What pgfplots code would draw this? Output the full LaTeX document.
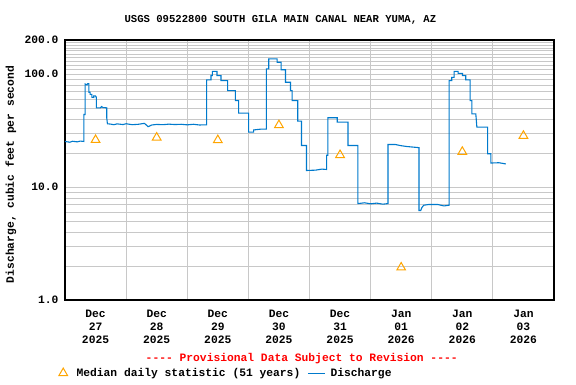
\documentclass[border=0pt]{standalone}
\usepackage{pgfplots}
\pgfplotsset{compat=1.18}
\usepackage{fontspec}
\setmainfont{Liberation Mono}
\definecolor{usgsblue}{RGB}{0,122,204}
\definecolor{usgsorange}{RGB}{255,165,0}
\definecolor{gridgray}{RGB}{200,200,200}
\definecolor{provred}{RGB}{255,0,0}
\newcommand{\lblfont}{\bfseries\fontsize{11.3}{12.9}\selectfont}
\begin{document}
\begin{tikzpicture}[x=1pt,y=1pt]
\path[use as bounding box] (0,0) rectangle (576,384);
\begin{axis}[
  at={(65pt,84pt)}, anchor=south west,
  scale only axis, width=489pt, height=260pt,
  xmin=0, xmax=8, ymode=log, ymin=1, ymax=200,
  axis line style={black, line width=1.2pt},
  xtick={0.5,1.5,2.5,3.5,4.5,5.5,6.5,7.5},
  xticklabels={{Dec\\27\\2025},{Dec\\28\\2025},{Dec\\29\\2025},{Dec\\30\\2025},{Dec\\31\\2025},{Jan\\01\\2026},{Jan\\02\\2026},{Jan\\03\\2026}},
  minor xtick={1,2,3,4,5,6,7},
  xminorgrids=true,
  ytick={1,10,100,200},
  yticklabels={1.0,10.0,100.0,200.0},
  minor ytick={2,3,4,5,6,7,8,9,20,30,40,50,60,70,80,90,110,120,130,140,150,160,170,180,190},
  ymajorgrids=true, yminorgrids=true,
  major grid style={gridgray, line width=0.9pt},
  minor grid style={gridgray, line width=0.9pt},
  major tick length=0pt, minor tick length=0pt,
  tick label style={font=\lblfont, black},
  xticklabel style={align=center, yshift=-7pt},
  yticklabel style={xshift=-3pt},
  /pgf/number format/assume math mode=true,
  legend columns=2,
  legend cell align=left,
  legend style={draw=none, fill=none, font=\lblfont,
    at={(axis description cs:-0.019,-0.281)}, anchor=west,
    /tikz/column 1/.style={column sep=7pt},
    /tikz/column 2/.style={column sep=5pt},
    /tikz/column 3/.style={column sep=3pt}},
  clip=true,
]
\addplot[only marks, mark=triangle, mark size=5pt, mark options={draw=usgsorange, line width=1pt}]
  coordinates {(0.5,26.1) (1.5,27.4) (2.5,26.0) (3.5,35.3) (4.5,19.2) (5.5,1.94) (6.5,20.5) (7.5,28.4)};
\addlegendentry{Median daily statistic (51 years)}
\addplot[usgsblue, line width=1.1pt, mark=none, line join=miter]
  coordinates {
  (0.00,25.3) (0.08,24.9) (0.12,25.4) (0.20,25.1) (0.25,25.5) (0.31,25.3)
  (0.31,43.8) (0.33,43.8) (0.33,81.5) (0.36,80) (0.37,82) (0.39,82)
  (0.39,69) (0.41,69) (0.41,66) (0.44,66) (0.44,62.3) (0.47,62) (0.47,64) (0.50,64) (0.51,62.3)
  (0.513,62.3) (0.513,50.2) (0.58,50.2) (0.60,51.5) (0.62,50.5) (0.683,50.2)
  (0.683,41) (0.694,36.3) (0.75,36) (0.80,35.6) (0.85,36.2) (0.95,35.7) (1.00,36.3)
  (1.10,35.6) (1.20,35.9) (1.30,36.6) (1.36,34.2) (1.42,35.4) (1.50,35.8) (1.60,35.6)
  (1.70,36.0) (1.80,35.7) (1.90,35.9) (2.00,35.5) (2.10,35.9) (2.20,35.4) (2.316,35.5)
  (2.316,88.7) (2.389,88.7) (2.389,97) (2.41,97) (2.41,105.6) (2.487,105.6)
  (2.487,96.8) (2.552,96.8) (2.552,87.5) (2.661,87.5) (2.661,71.3) (2.787,71.3)
  (2.787,58.2) (2.841,58.2) (2.841,45) (3.005,45) (3.005,30.6) (3.087,30.6)
  (3.087,32.0) (3.20,32.5) (3.295,32.5)
  (3.295,111) (3.333,111) (3.333,136) (3.47,136) (3.47,127) (3.536,127)
  (3.536,109) (3.607,109) (3.607,84.5) (3.689,84.5) (3.689,71.3) (3.716,71.3)
  (3.716,58.2) (3.808,58.2) (3.808,38.3) (3.869,38.3) (3.869,23.3) (3.951,23.3)
  (3.951,14.0) (4.10,14.1) (4.20,14.4) (4.279,14.3) (4.279,19.1) (4.30,19.1)
  (4.30,41) (4.454,41) (4.454,37.5) (4.63,37.5) (4.63,23.3) (4.792,23.3)
  (4.792,7.13) (4.90,7.25) (5.00,7.1) (5.10,7.2) (5.20,7.05) (5.284,7.13)
  (5.284,23.8) (5.40,23.8) (5.50,23.2) (5.60,22.8) (5.792,22.3)
  (5.792,6.2) (5.82,6.2) (5.84,6.6) (5.87,6.9) (5.95,7.0) (6.10,7.0) (6.20,6.8) (6.284,6.9)
  (6.284,87.5) (6.328,87.5) (6.328,93.5) (6.366,93.5) (6.366,105.6) (6.431,105.6)
  (6.431,101.4) (6.503,101.4) (6.503,96.7) (6.557,96.7) (6.557,88.7) (6.628,88.7)
  (6.628,58.2) (6.656,58.2) (6.656,44.4) (6.721,44.4) (6.738,33.9) (6.913,33.9)
  (6.913,19.7) (6.967,19.7) (6.967,16.3) (7.10,16.4) (7.213,16.0)
  };
\addlegendentry{Discharge}
\end{axis}
\node[font=\bfseries\fontsize{10.6}{12}\selectfont] at (280.4,364) {USGS 09522800 SOUTH GILA MAIN CANAL NEAR YUMA, AZ};
\node[font=\lblfont, rotate=90] at (11,209.5) {Discharge, cubic feet per second};
\node[font=\lblfont, text=provred] at (301.7,25.2) {-{}-{}-{}- Provisional Data Subject to Revision -{}-{}-{}-};
\end{tikzpicture}
\end{document}
